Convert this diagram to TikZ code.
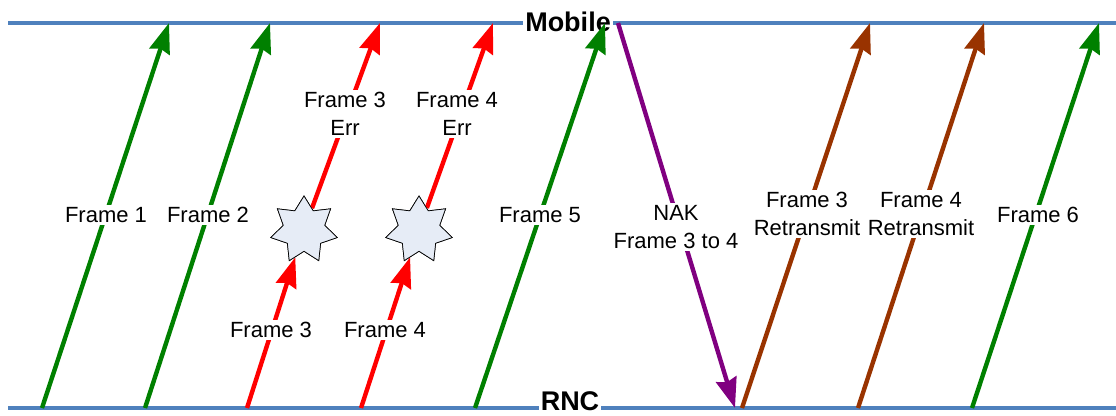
\documentclass[tikz,border=0pt]{standalone}
\usepackage{fontspec}
\setmainfont{Liberation Sans}
\usetikzlibrary{arrows.meta,shapes.geometric}

\definecolor{lineblue}{HTML}{4F81BD}
\definecolor{okgreen}{HTML}{008000}
\definecolor{errred}{HTML}{FF0000}
\definecolor{nakpurple}{HTML}{800080}
\definecolor{rtxbrown}{HTML}{993300}
\definecolor{starfill}{HTML}{E6ECF6}

\begin{document}
\begin{tikzpicture}[x=1pt,y=-1pt,
  timeline/.style={line width=4.4pt, draw=lineblue},
  msg/.style={line width=4.4pt, -{Stealth[length=30pt,width=21pt,inset=3pt]}},
  lbl/.style={fill=white, inner sep=2pt, align=center, font=\fontsize{22}{28}\selectfont},
  endlbl/.style={fill=white, inner xsep=2pt, inner ysep=1pt, font=\fontsize{27}{27}\selectfont\bfseries},
  burst/.style={star, star points=7, star point ratio=1.6, minimum size=68pt,
                inner sep=0pt, draw=black, line width=0.7pt, fill=starfill}]
\useasboundingbox (0,0) rectangle (1116,415);

% station time lines
\coordinate (mobW) at (8,23);   \coordinate (mobE) at (1116,23);
\coordinate (rncW) at (8,408);  \coordinate (rncE) at (1116,408);
\draw[timeline] (mobW) -- (mobE);
\draw[timeline] (rncW) -- (rncE);
\node[endlbl] (mobile) at (568,22) {Mobile};
\node[endlbl, anchor=base] (rnc) at (570,410) {RNC};

% end points on the time lines
\coordinate (f1a) at (42,408);   \coordinate (f1b) at (169,23);
\coordinate (f2a) at (145,408);  \coordinate (f2b) at (270,23);
\coordinate (f3a) at (247,408);  \coordinate (f3b) at (380,23);
\coordinate (f4a) at (361,408);  \coordinate (f4b) at (493,23);
\coordinate (f5a) at (475,408);  \coordinate (f5b) at (605,23);
\coordinate (nka) at (618,23);   \coordinate (nkb) at (735,408);
\coordinate (r3a) at (742,408);  \coordinate (r3b) at (870,23);
\coordinate (r4a) at (858,408);  \coordinate (r4b) at (984,23);
\coordinate (f6a) at (972,408);  \coordinate (f6b) at (1099,23);

% corruption bursts
\node[burst] (s3) at (304,230) {};
\node[burst] (s4) at (419,230) {};

% frames
\draw[msg, okgreen] (f1a) -- (f1b);
\draw[msg, okgreen] (f2a) -- (f2b);
\draw[msg, errred] (f3a) -- (s3);
\draw[msg, errred] (s3) -- (f3b);
\draw[msg, errred] (f4a) -- (s4);
\draw[msg, errred] (s4) -- (f4b);
\draw[msg, okgreen] (f5a) -- (f5b);
\draw[msg, nakpurple] (nka) -- (nkb);
\draw[msg, rtxbrown] (r3a) -- (r3b);
\draw[msg, rtxbrown] (r4a) -- (r4b);
\draw[msg, okgreen] (f6a) -- (f6b);

% bursts drawn over the red frames
\node[burst] at (s3) {};
\node[burst] at (s4) {};

% labels
\node[lbl] (l1) at (106,215) {Frame 1};
\node[lbl] (l2) at (208,215) {Frame 2};
\node[lbl] (l3e) at (345,114) {Frame 3\\Err};
\node[lbl] (l4e) at (457,114) {Frame 4\\Err};
\node[lbl] (l3) at (271,330) {Frame 3};
\node[lbl] (l4) at (385,330) {Frame 4};
\node[lbl] (l5) at (540,215) {Frame 5};
\node[lbl] (lnak) at (676,227) {NAK\\Frame 3 to 4};
\node[lbl] (l3r) at (807,214) {Frame 3\\Retransmit};
\node[lbl] (l4r) at (921,214) {Frame 4\\Retransmit};
\node[lbl] (l6) at (1038,215) {Frame 6};
\end{tikzpicture}
\end{document}
